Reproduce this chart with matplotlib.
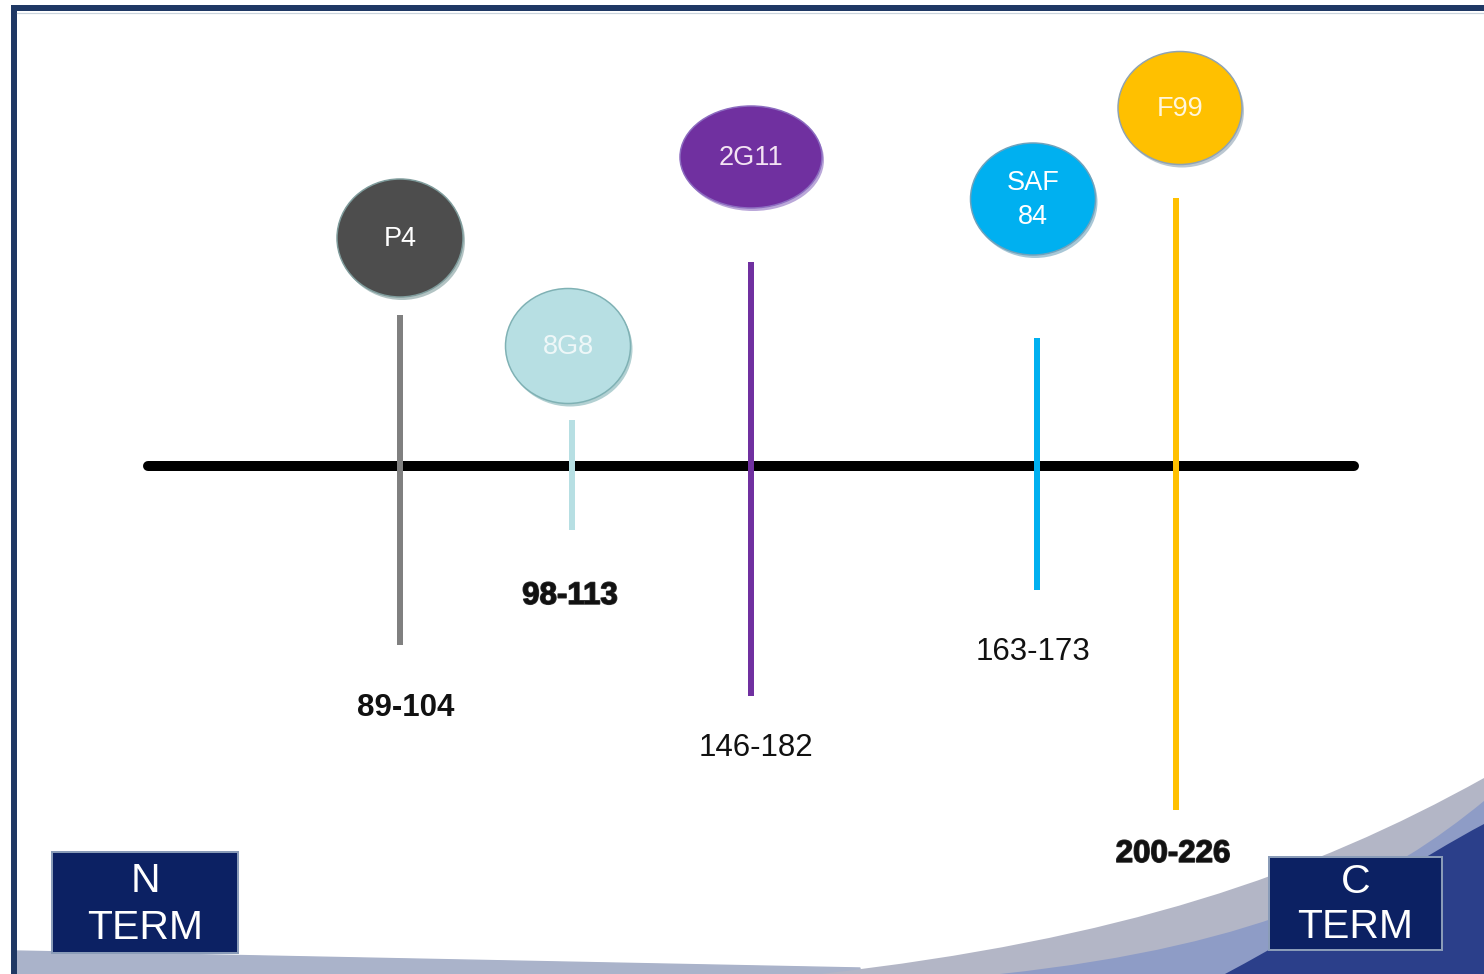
import matplotlib.pyplot as plt
import matplotlib.patheffects as pe
import numpy as np
from matplotlib.patches import Ellipse, Rectangle, PathPatch
from matplotlib.path import Path

plt.rcParams['font.family'] = ['Liberation Sans', 'DejaVu Sans']

# datos: anticuerpos y sus epitopos
anticuerpos = ['P4', '8G8', '2G11', 'SAF\n84', 'F99']
epitopos = ['89-104', '98-113', '146-182', '163-173', '200-226']
colores = ['#4d4d4d', '#b7dfe3', '#7030a0', '#00b0f0', '#ffc000']
colores_linea = ['#808080', '#b7dfe3', '#7030a0', '#00b0f0', '#ffc000']
colores_texto = ['white', '#eef7f8', '#f3e3f3', 'white', '#fff6dc']
bordes = ['#7f9c9c', '#7fb1b4', '#8c6cc0', '#6fa2bc', '#8fa3b3']

# layout (pixeles)
linea_x = [400, 572, 751, 1037, 1176]
linea_arriba = [315, 420, 262, 338, 198]
linea_abajo = [645, 530, 696, 590, 810]
burbuja = [(400, 238, 126, 118), (568, 346, 125, 115), (751, 157, 142, 102),
           (1033, 199, 125, 112), (1180, 108, 124, 113)]
etiqueta = [(406, 708), (570, 596), (756, 748), (1033, 652), (1173, 854)]
negrita = [True, True, False, False, True]
doble = [False, True, False, False, True]

W, H = 1484, 974
fig = plt.figure(figsize=(W / 100, H / 100), dpi=100)
ax = fig.add_axes([0, 0, 1, 1])
ax.set_xlim(0, W)
ax.set_ylim(H, 0)
ax.axis('off')

px = 72 / 100  # pixeles -> puntos

# fondo decorativo abajo
ax.add_patch(plt.Polygon([(15, 951), (860, 968), (860, 974), (15, 974)],
                         color='#aab3ca', zorder=1))


def curva(p0, p1, p2, p3, color, z):
    verts = [p0, p1, p2, p3, (W, H), p0]
    codes = [Path.MOVETO, Path.CURVE4, Path.CURVE4, Path.CURVE4,
             Path.LINETO, Path.CLOSEPOLY]
    ax.add_patch(PathPatch(Path(verts, codes), facecolor=color,
                           edgecolor='none', zorder=z))


curva((820, 974), (1120, 940), (1310, 875), (W, 778), '#b3b6c6', 1)
curva((1000, 974), (1270, 945), (1390, 878), (W, 801), '#8e9cc6', 1.1)
curva((1225, 974), (1330, 918), (1425, 855), (W, 824), '#2b3f8a', 1.2)

# marco
ax.plot([11, W], [8, 8], color='#1f3864', lw=6 * px, zorder=5,
        solid_capstyle='butt')
ax.plot([14, 14], [5, H], color='#1f3864', lw=6 * px, zorder=5,
        solid_capstyle='butt')
ax.plot([17, W], [12.5, 12.5], color='#c9d3dc', lw=1.2 * px, zorder=5)

# linea principal
ax.plot([148, 1354], [466, 466], color='black', lw=10 * px,
        solid_capstyle='round', zorder=3)

for i, nombre in enumerate(anticuerpos):
    ax.plot([linea_x[i], linea_x[i]], [linea_arriba[i], linea_abajo[i]],
            color=colores_linea[i], lw=6 * px, solid_capstyle='butt', zorder=4)
    cx, cy, w, h = burbuja[i]
    ax.add_patch(Ellipse((cx + 2, cy + 3), w, h, facecolor=bordes[i],
                         edgecolor='none', alpha=0.6, zorder=4))
    ax.add_patch(Ellipse((cx, cy), w, h, facecolor=colores[i],
                         edgecolor=bordes[i], lw=1.5 * px, zorder=5))
    ax.text(cx, cy + 1, nombre, color=colores_texto[i], fontsize=19.5,
            ha='center', va='center', linespacing=1.45, zorder=6)
    ex, ey = etiqueta[i]
    peso = 'bold' if negrita[i] else 'normal'
    efectos = []
    if doble[i]:
        # texto "doble" del original: trazo mas grueso
        efectos = [pe.withStroke(linewidth=1.1, foreground='#333333')]
    ax.text(ex, ey, epitopos[i], fontsize=22.5, fontweight=peso,
            color='#111111', ha='center', va='center', zorder=6,
            path_effects=efectos)

# cajas N / C TERM
for (x0, y0, x1, y1), letra, d1, d2 in [((52, 852, 238, 953), 'N', 29, 76),
                                        ((1269, 857, 1442, 950), 'C', 25, 70)]:
    ax.add_patch(Rectangle((x0, y0), x1 - x0, y1 - y0, facecolor='#0c2163',
                           edgecolor='#8a9cb8', lw=2 * px, zorder=6))
    xm = (x0 + x1) / 2
    ax.text(xm, y0 + d1, letra, color='white', fontsize=29.5,
            ha='center', va='center', zorder=7)
    ax.text(xm, y0 + d2, 'TERM', color='white', fontsize=29.5,
            ha='center', va='center', zorder=7)

fig.savefig('out.png', dpi=100)
